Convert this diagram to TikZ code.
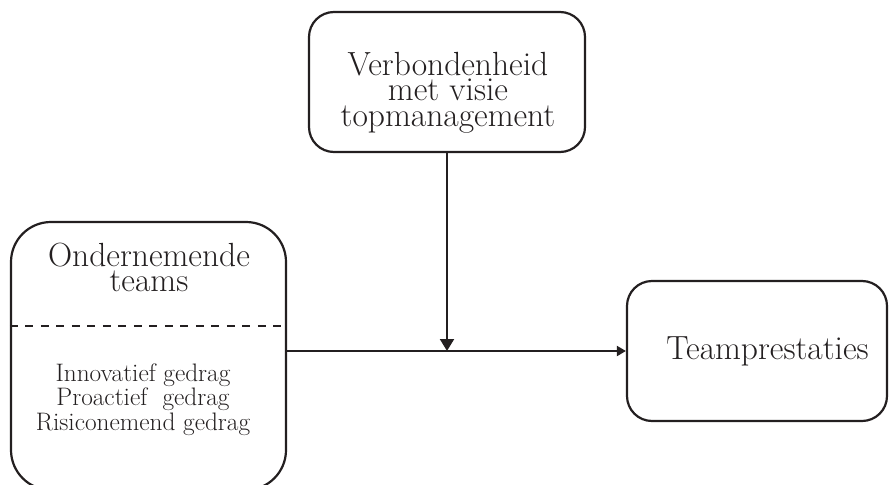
\documentclass[tikz,border=0pt]{standalone}
\usetikzlibrary{arrows.meta}
\definecolor{ink}{HTML}{231F20}
\begin{document}
\begin{tikzpicture}[x=1pt,y=-1pt,
  roundbox/.style={draw=ink, line width=2.2pt, rounded corners=#1, inner sep=0pt},
  bigtxt/.style={font=\fontsize{33.5}{25.5}\selectfont, text=ink, align=center, inner sep=0pt},
  smalltxt/.style={font=\fontsize{25.3}{24.8}\selectfont, text=ink, align=center, inner sep=0pt},
  conn/.style={draw=ink, line width=2pt, -{Triangle[length=9pt,width=10pt]}},
  connv/.style={draw=ink, line width=2pt, -{Triangle[length=12pt,width=14pt]}}]
\useasboundingbox (0,0) rectangle (890,484);
\clip (0,0) rectangle (890,484);
% left box
\node[roundbox=40pt, minimum width=275pt, minimum height=268pt] (ent) at (148.5,356) {};
\draw[draw=ink, line width=2pt, dash pattern=on 8pt off 7.5pt] (ent.west |- 0,326) -- (ent.east |- 0,326);
\node[bigtxt] (entT) at (149,267.5) {Ondernemende\\teams};
\node[smalltxt] (entD) at (143,399.5) {Innovatief gedrag\\Proactief~ gedrag\\Risiconemend gedrag};
% top box
\node[roundbox=25pt, minimum width=276pt, minimum height=140pt] (vis) at (447,82) {};
\node[bigtxt] (visT) at (448,92.5) {Verbondenheid\\met visie\\topmanagement};
% right box
\node[roundbox=25pt, minimum width=260pt, minimum height=140pt] (tp) at (757,351) {};
\node[bigtxt] (tpT) at (767.5,351.7) {Teamprestaties};
% connectors
\draw[conn] (ent.east |- tp.west) -- (tp.west);
\draw[connv] (vis.south) -- (vis.south |- tp.west);
\end{tikzpicture}
\end{document}
